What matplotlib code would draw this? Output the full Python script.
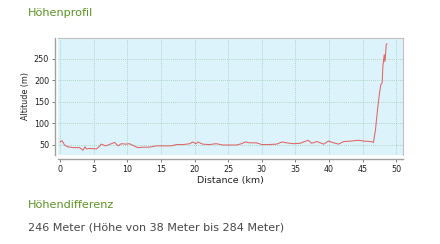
import matplotlib
matplotlib.use("Agg")
import matplotlib.pyplot as plt

# elevation profile (km, m)
distance_km = [0.0, 0.3, 0.65, 1.1, 1.9, 2.9, 3.4, 3.7, 3.9, 4.4, 5.4, 5.8, 6.1, 6.8,
               7.3, 8.1, 8.6, 9.1, 9.8, 10.3, 11.0, 11.5, 12.3, 13.3, 14.3, 15.3,
               16.5, 17.3, 18.3, 19.3, 19.7, 20.2, 20.5, 21.2, 22.2, 23.2, 24.2,
               25.2, 26.2, 27.0, 27.5, 28.2, 29.2, 30.0, 31.0, 32.2, 33.0, 33.7,
               34.7, 35.7, 36.9, 37.4, 38.2, 39.2, 39.9, 40.7, 41.4, 42.2, 43.2,
               44.4, 45.2, 46.2, 46.6, 46.9, 47.2, 47.5, 47.7, 47.9, 48.0, 48.2,
               48.3, 48.4, 48.5, 48.6]
altitude_m = [57, 60, 50, 46, 44, 44, 38, 46, 41, 42, 41, 46, 52, 48,
              51, 56, 48, 53, 52, 53, 48, 44, 45, 45, 48, 48,
              48, 51, 51, 53, 57, 53, 57, 52, 51, 53, 50,
              50, 50, 53, 57, 55, 55, 51, 51, 52, 57, 55,
              53, 54, 61, 54, 58, 52, 59, 55, 52, 58, 59,
              61, 59, 58, 56, 85, 131, 170, 190, 194, 232, 259,
              243, 259, 283, 284]

x_ticks = [0, 5, 10, 15, 20, 25, 30, 35, 40, 45, 50]
y_ticks = [50, 100, 150, 200, 250]

title_text = "Höhenprofil"
diff_title = "Höhendifferenz"
diff_text = "246 Meter (Höhe von 38 Meter bis 284 Meter)"

green = "#5a9421"

fig = plt.figure(figsize=(4.4, 2.44), dpi=100)
ax = fig.add_axes([0.132, 0.365, 0.784, 0.480])
ax.set_facecolor("#ddf3fc")

ax.plot(distance_km, altitude_m, color="#e06464", linewidth=0.75)

ax.set_xlim(-0.3, 51.0)
ax.set_ylim(27, 298)
ax.set_xticks(x_ticks)
ax.set_yticks(y_ticks)
ax.grid(True, linestyle=(0, (1, 1.5)), color="#9ccab0", linewidth=0.6)

for side in ["top", "right"]:
    ax.spines[side].set_color("#c0c0c0")
    ax.spines[side].set_linewidth(0.8)
for side in ["left", "bottom"]:
    ax.spines[side].set_color("#a0a0a0")
    ax.spines[side].set_linewidth(1.0)
ax.spines["left"].set_position(("outward", 2))
ax.spines["bottom"].set_position(("outward", 3))

ax.tick_params(axis="both", length=2.5, width=0.6, color="#666666",
               labelsize=5.8, labelcolor="#222222", pad=2)

ax.set_xlabel("Distance (km)", fontsize=6.8, color="#222222", labelpad=1)
ax.set_ylabel("Altitude (m)", fontsize=5.8, color="#222222", labelpad=3)

fig.text(28 / 440, 1 - 12.5 / 244, title_text, color=green, fontsize=8.1,
         va="center", ha="left")
fig.text(28 / 440, 1 - 205 / 244, diff_title, color=green, fontsize=8.1,
         va="center", ha="left")
fig.text(28 / 440, 1 - 227 / 244, diff_text, color="#474747", fontsize=8.0,
         va="center", ha="left")

fig.savefig("out.png", dpi=100)
